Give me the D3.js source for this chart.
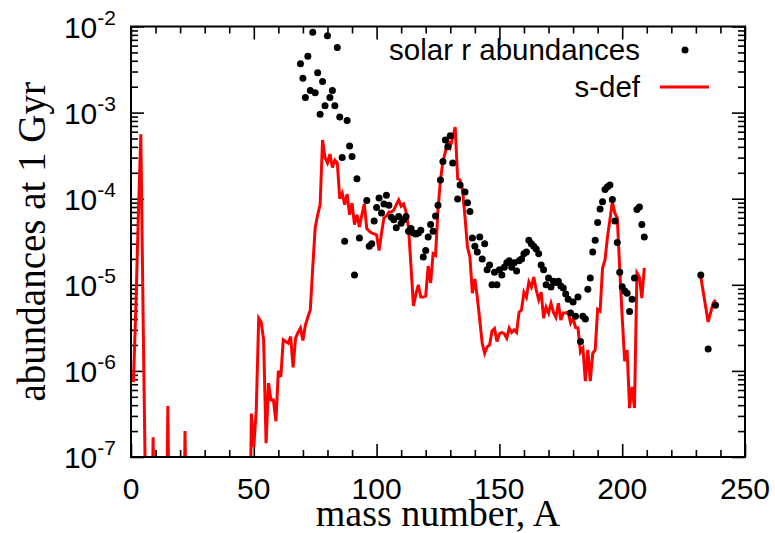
<!DOCTYPE html>
<html><head><meta charset="utf-8">
<script src="https://cdn.jsdelivr.net/npm/d3@7"></script>
<style>body{margin:0;background:#fff}svg{display:block}</style>
</head><body>
<svg id="c" width="775" height="533"></svg>
<script>
// ---- data ----
const xMajorTicks = [0, 50, 100, 150, 200, 250];
const xMinorTicks = [10,20,30,40,60,70,80,90,110,120,130,140,160,170,180,190,210,220,230,240];
const yExponents = [-2, -3, -4, -5, -6, -7];

const solarA = [69,70,71,72,73,74,75,76,77,78,79,80,81,82,83,84,85,86,87,88,89,90,91,92,93,
  96,97,98,99,100,101,102,103,104,105,106,107,108,109,110,111,112,113,114,115,116,117,118,119,120,
  121,122,123,124,125,126,127,128,129,130,131,133,134,136,137,138,139,140,141,142,143,144,145,146,
  147,148,149,150,151,152,153,154,155,156,157,158,159,160,161,162,163,164,165,166,167,168,169,170,
  171,172,173,174,175,176,177,178,179,180,181,182,183,184,185,186,187,188,189,190,191,192,193,194,
  195,196,197,198,199,200,201,202,203,204,205,206,207,208,209,232,235,238];
const solarR = [3.7e-3,2.5e-3,1.5e-3,4.5e-3,1.8e-3,8.6e-3,1.7e-3,2.9e-3,9.6e-4,2.3e-3,1.2e-3,7.8e-3,
  1.5e-3,1.8e-3,1.2e-3,5.7e-3,8.9e-4,3.0e-4,3.2e-5,8.1e-4,4.1e-4,3.1e-4,1.3e-5,1.7e-4,3.5e-5,
  9.5e-5,2.8e-5,3.0e-5,5.5e-5,7.9e-5,1.02e-4,6.8e-5,8.7e-5,1.1e-4,8.4e-5,6.1e-5,5.7e-5,4.6e-5,6.2e-5,
  5.2e-5,5.7e-5,6.2e-5,4.2e-5,4.5e-5,4.0e-5,3.9e-5,4.0e-5,4.3e-5,2.1e-5,2.5e-5,
  3.6e-5,5.0e-5,4.2e-5,6.3e-5,8.4e-5,1.65e-4,2.7e-4,4.8e-4,4.0e-4,5.4e-4,2.6e-4,9.9e-5,1.44e-4,1.2e-4,
  9.0e-5,7.1e-5,3.5e-5,2.8e-5,2.4e-5,3.6e-5,2.0e-5,3.0e-5,1.5e-5,1.7e-5,
  1.0e-5,1.4e-5,1.0e-5,1.5e-5,1.3e-5,1.6e-5,1.8e-5,1.9e-5,1.6e-5,1.8e-5,1.45e-5,1.9e-5,2.0e-5,2.3e-5,
  2.4e-5,3.3e-5,3.0e-5,2.8e-5,2.6e-5,2.3e-5,1.7e-5,1.5e-5,1.0e-5,1.2e-5,
  9.4e-6,1.1e-5,1.06e-5,1.1e-5,9.7e-6,9.2e-6,7.8e-6,6.8e-6,4.7e-6,6.3e-6,4.3e-6,7.2e-6,2.2e-6,4.3e-6,
  4.0e-6,8.9e-6,1.2e-5,2.4e-5,3.3e-5,5.3e-5,7.6e-5,9.2e-5,1.28e-4,1.38e-4,
  1.44e-4,9.8e-5,5.5e-5,3.1e-5,1.4e-5,9.5e-6,8.5e-6,8.0e-6,4.9e-6,6.8e-6,1.2e-5,7.5e-5,8.0e-5,5.0e-5,
  3.6e-5,1.3e-5,1.8e-6,5.8e-6];

// s-def series; null marks a gap in the curve, 1e-9 marks points far below the plotted range
const sdefA = [1,2,3,4,5,6,8,9,10,14,15,16,21,22,23,48,
  49,50,51,52,53,54,55,56,57,58,59,60,61,62,63,64,65,66,67,68,69,70,71,72,73,74,75,76,77,78,79,80,
  81,82,83,84,85,86,87,88,89,90,91,92,93,94,95,96,97,98,99,100,101,102,103,104,105,106,107,108,109,110,
  111,112,113,114,115,116,117,118,119,120,121,122,123,124,125,126,127,128,129,130,131,132,133,134,135,
  136,137,138,139,140,141,142,143,144,145,146,147,148,149,150,151,152,153,154,155,156,157,158,159,160,
  161,162,163,164,165,166,167,168,169,170,171,172,173,174,175,176,177,178,179,180,181,182,183,184,185,
  186,187,188,189,190,191,192,193,194,195,196,197,198,199,200,201,202,203,204,205,206,207,208,209,
  210,232,235,237,238];
const sdefV = [7.4e-7,5.8e-6,6.5e-5,5.6e-4,3.0e-6,2.5e-8,1e-9,1.7e-7,1e-9,1e-9,3.9e-7,1e-9,1e-9,2.0e-7,1e-9,1e-9,
  3.2e-7,1.3e-7,3.5e-7,4.1e-6,3.7e-6,2.3e-6,1.45e-7,7.2e-7,4.6e-7,4.6e-7,2.6e-7,1.0e-6,8.5e-7,2.3e-6,
  2.2e-6,2.1e-6,2.5e-6,1.1e-6,2.4e-6,2.8e-6,3.15e-6,2.25e-6,3.4e-6,4.2e-6,5.1e-6,1.6e-5,4.6e-5,6.5e-5,
  8.5e-5,4.8e-4,3.0e-4,2.6e-4,
  3.3e-4,2.3e-4,2.8e-4,2.6e-4,1.0e-4,1.16e-4,8.5e-5,1.13e-4,6.5e-5,8.9e-5,5.0e-5,6.5e-5,4.7e-5,6.5e-5,
  8.7e-5,4.5e-5,4.2e-5,4.0e-5,3.9e-5,3.8e-5,2.5e-5,4.0e-5,6.0e-5,6.3e-5,7.0e-5,7.0e-5,7.4e-5,8.5e-5,
  9.7e-5,8.2e-5,
  8.7e-5,7.0e-5,4.6e-5,1.65e-5,5.7e-6,7.8e-6,1.0e-5,7.2e-6,7.2e-6,7.4e-6,1.65e-5,1.05e-5,2.3e-5,2.2e-5,
  7.4e-5,1.65e-4,2.7e-4,3.5e-4,4.8e-4,4.0e-4,5.1e-4,6.8e-4,1.7e-4,1.65e-4,1.26e-4,
  6.1e-5,2.75e-5,2.1e-5,8.0e-6,1.17e-5,7.2e-6,3.9e-6,2.1e-6,1.6e-6,1.9e-6,2.0e-6,2.9e-6,3.1e-6,2.2e-6,
  2.7e-6,2.8e-6,2.7e-6,2.4e-6,3.15e-6,2.8e-6,3.0e-6,2.8e-6,4.8e-6,5.1e-6,8.2e-6,
  7.2e-6,1.08e-5,9.4e-6,1.23e-5,8.7e-6,6.7e-6,8.2e-6,4.1e-6,5.5e-6,4.7e-6,6.1e-6,4.8e-6,4.2e-6,6.1e-6,
  3.9e-6,4.7e-6,4.7e-6,4.8e-6,3.6e-6,4.1e-6,3.2e-6,3.15e-6,1.66e-6,1.84e-6,7.6e-7,
  1.75e-6,7.6e-7,1.6e-6,1.75e-6,5.2e-6,4.95e-6,1.57e-5,1.94e-5,3.6e-5,5.7e-5,9.2e-5,6.8e-5,6.0e-5,
  1.5e-5,4.2e-6,1.3e-6,1.75e-6,3.7e-7,6.5e-7,3.7e-7,1.37e-5,1.23e-5,7.0e-6,1.57e-5,
  null,1.23e-5,3.7e-6,6.1e-6,6.7e-6];

const legendLabels = ["solar r abundances", "s-def"];
const xTitle = "mass number, A";
const yTitle = "abundances at 1 Gyr";

// ---- chart ----
const svg = d3.select("#c");
const L = 131, R = 745, T = 26.5, B = 457;
const x = d3.scaleLinear().domain([0, 250]).range([L, R]);
const y = d3.scaleLog().domain([1e-7, 1e-2]).range([B, T]);
const sans = "'Liberation Sans', Arial, Helvetica, sans-serif";
const serif = "'Liberation Serif', 'Times New Roman', serif";

svg.append("defs").append("clipPath").attr("id", "clip")
  .append("rect").attr("x", L).attr("y", T).attr("width", R - L).attr("height", B - T);

// minor y ticks
const yMinor = [];
for (let e = -7; e < -2; e++) for (let m = 2; m <= 9; m++) yMinor.push(m * Math.pow(10, e));
const yMajor = yExponents.map(e => Math.pow(10, e));

function styleAxis(g) {
  g.select(".domain").remove();
  g.selectAll(".tick line").attr("stroke", "#000").attr("stroke-width", 1.6);
  g.selectAll(".tick text").remove();
}
// x ticks bottom & top
svg.append("g").attr("transform", `translate(0,${B})`)
  .call(d3.axisBottom(x).tickValues(xMajorTicks).tickSize(-13)).call(styleAxis);
svg.append("g").attr("transform", `translate(0,${B})`)
  .call(d3.axisBottom(x).tickValues(xMinorTicks).tickSize(-7)).call(styleAxis);
svg.append("g").attr("transform", `translate(0,${T})`)
  .call(d3.axisTop(x).tickValues(xMajorTicks).tickSize(-13)).call(styleAxis);
svg.append("g").attr("transform", `translate(0,${T})`)
  .call(d3.axisTop(x).tickValues(xMinorTicks).tickSize(-7)).call(styleAxis);
// y ticks left & right
svg.append("g").attr("transform", `translate(${L},0)`)
  .call(d3.axisLeft(y).tickValues(yMajor).tickSize(-13)).call(styleAxis);
svg.append("g").attr("transform", `translate(${L},0)`)
  .call(d3.axisLeft(y).tickValues(yMinor).tickSize(-7)).call(styleAxis);
svg.append("g").attr("transform", `translate(${R},0)`)
  .call(d3.axisRight(y).tickValues(yMajor).tickSize(-13)).call(styleAxis);
svg.append("g").attr("transform", `translate(${R},0)`)
  .call(d3.axisRight(y).tickValues(yMinor).tickSize(-7)).call(styleAxis);

// x tick labels
svg.append("g").selectAll("text").data(xMajorTicks).join("text")
  .attr("x", d => x(d)).attr("y", B + 42)
  .attr("text-anchor", "middle").attr("font-family", sans).attr("font-size", 30)
  .text(d => d);

// y tick labels (10^e)
const yl = svg.append("g").selectAll("text").data(yExponents).join("text")
  .attr("x", L - 15).attr("y", d => y(Math.pow(10, d)) + 11)
  .attr("text-anchor", "end").attr("font-family", sans).attr("font-size", 30);
yl.append("tspan").text("10");
yl.append("tspan").attr("dy", -13).attr("font-size", 21).text(d => String(d));

// data
const plot = svg.append("g").attr("clip-path", "url(#clip)");
const line = d3.line()
  .defined((d, i) => sdefV[i] != null)
  .x((d, i) => x(sdefA[i]))
  .y((d, i) => y(sdefV[i]));
plot.append("path").datum(sdefA).attr("d", line)
  .attr("fill", "none").attr("stroke", "#ff0000").attr("stroke-width", 3)
  .attr("stroke-linejoin", "miter").attr("stroke-miterlimit", 4);

plot.append("g").selectAll("circle").data(solarA).join("circle")
  .attr("cx", d => x(d)).attr("cy", (d, i) => y(solarR[i])).attr("r", 3.5).attr("fill", "#000");

// frame
svg.append("rect").attr("x", L).attr("y", T).attr("width", R - L).attr("height", B - T)
  .attr("fill", "none").attr("stroke", "#000").attr("stroke-width", 2);

// titles
svg.append("text").attr("x", (L + R) / 2).attr("y", 526).attr("text-anchor", "middle")
  .attr("font-family", serif).attr("font-size", 38).text(xTitle);
svg.append("text").attr("transform", `translate(45,${(T + B) / 2}) rotate(-90)`)
  .attr("text-anchor", "middle").attr("font-family", serif).attr("font-size", 39).text(yTitle);

// legend
const lg = svg.append("g");
lg.append("text").attr("x", 640).attr("y", 60).attr("text-anchor", "end")
  .attr("font-family", sans).attr("font-size", 29.5).text(legendLabels[0]);
lg.append("circle").attr("cx", 685).attr("cy", 50).attr("r", 3.5).attr("fill", "#000");
lg.append("text").attr("x", 640).attr("y", 97).attr("text-anchor", "end")
  .attr("font-family", sans).attr("font-size", 29.5).text(legendLabels[1]);
lg.append("line").attr("x1", 660).attr("x2", 709).attr("y1", 87).attr("y2", 87)
  .attr("stroke", "#ff0000").attr("stroke-width", 3);
</script>
</body></html>
